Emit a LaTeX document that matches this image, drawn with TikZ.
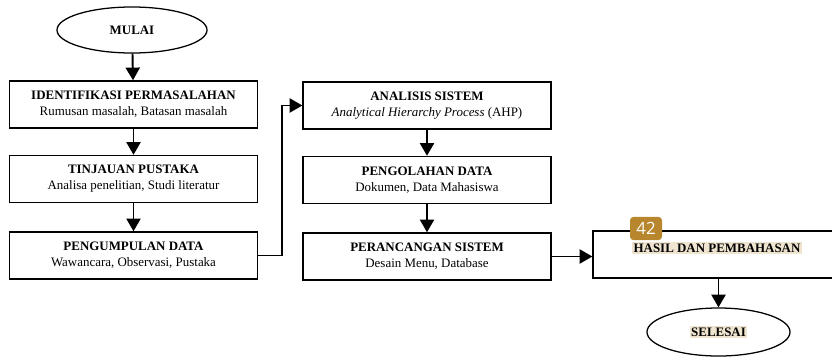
\documentclass[tikz,border=0pt]{standalone}
\usepackage{fontspec}
\setmainfont{Liberation Serif}
\newfontfamily\badgefont{Open Sans}
\usetikzlibrary{arrows.meta,shapes.geometric}
\definecolor{hlbeige}{HTML}{EFE4CF}
\definecolor{badgegold}{HTML}{B7862D}

\begin{document}
\begin{tikzpicture}[x=0.025cm,y=-0.025cm,
  kotak/.style={draw,line width=0.9pt,minimum width=6.2cm,minimum height=1.18cm,align=center,inner sep=1pt,font=\fontsize{9.2}{11.3}\selectfont},
  oval/.style={draw,ellipse,line width=0.9pt,inner sep=0pt,font=\fontsize{9.2}{11.3}\selectfont\bfseries},
  panah/.style={-{Triangle[width=10pt,length=9pt]},line width=1.4pt}]

\useasboundingbox (0,0) rectangle (832,356);

% kolom kiri
\node[oval,minimum width=3.75cm,minimum height=1.15cm] (mulai) at (132,30) {MULAI};
\node[kotak] (identifikasi) at (133.5,104.5) {\textbf{IDENTIFIKASI PERMASALAHAN}\\Rumusan masalah, Batasan masalah};
\node[kotak] (tinjauan) at (133.5,179) {\textbf{TINJAUAN PUSTAKA}\\Analisa penelitian, Studi literatur};
\node[kotak] (pengumpulan) at (133.5,255.5) {\textbf{PENGUMPULAN DATA}\\Wawancara, Observasi, Pustaka};

% kolom tengah
\node[kotak] (analisis) at (427,105.5) {\textbf{ANALISIS SISTEM}\\\textit{Analytical Hierarchy Process} (AHP)};
\node[kotak] (pengolahan) at (427,180) {\textbf{PENGOLAHAN DATA}\\Dokumen, Data Mahasiswa};
\node[kotak] (perancangan) at (427,256.5) {\textbf{PERANCANGAN SISTEM}\\Desain Menu, Database};

% kolom kanan
\node[kotak] (hasil) at (717,254.5) {};
\node[fill=hlbeige,inner sep=1pt,font=\fontsize{9.2}{11.3}\selectfont\bfseries] (hasilteks) at (717,248) {HASIL DAN PEMBAHASAN};
\node[oval,minimum width=3.575cm,minimum height=1.2cm] (selesai) at (718.5,332) {};
\node[fill=hlbeige,inner sep=1pt,font=\fontsize{9.2}{11.3}\selectfont\bfseries] (selesaiteks) at (selesai.center) {SELESAI};
\node[fill=badgegold,rounded corners=2.5pt,minimum width=0.8cm,minimum height=0.58cm,inner sep=0pt,text=white,font=\badgefont\fontsize{12}{12}\selectfont] (halaman) at (646,228.5) {42};

\draw[panah] (mulai) -- (identifikasi);
\draw[panah] (identifikasi) -- (tinjauan);
\draw[panah] (tinjauan) -- (pengumpulan);
\draw[panah] (pengumpulan.east) -- ++(24,0) |- (analisis.west);
\draw[panah] (analisis) -- (pengolahan);
\draw[panah] (pengolahan) -- (perancangan);
\draw[panah] (perancangan.east) -- (perancangan.east -| hasil.west);
\draw[panah] (hasil.south -| selesai.north) -- (selesai.north);

\end{tikzpicture}
\end{document}
